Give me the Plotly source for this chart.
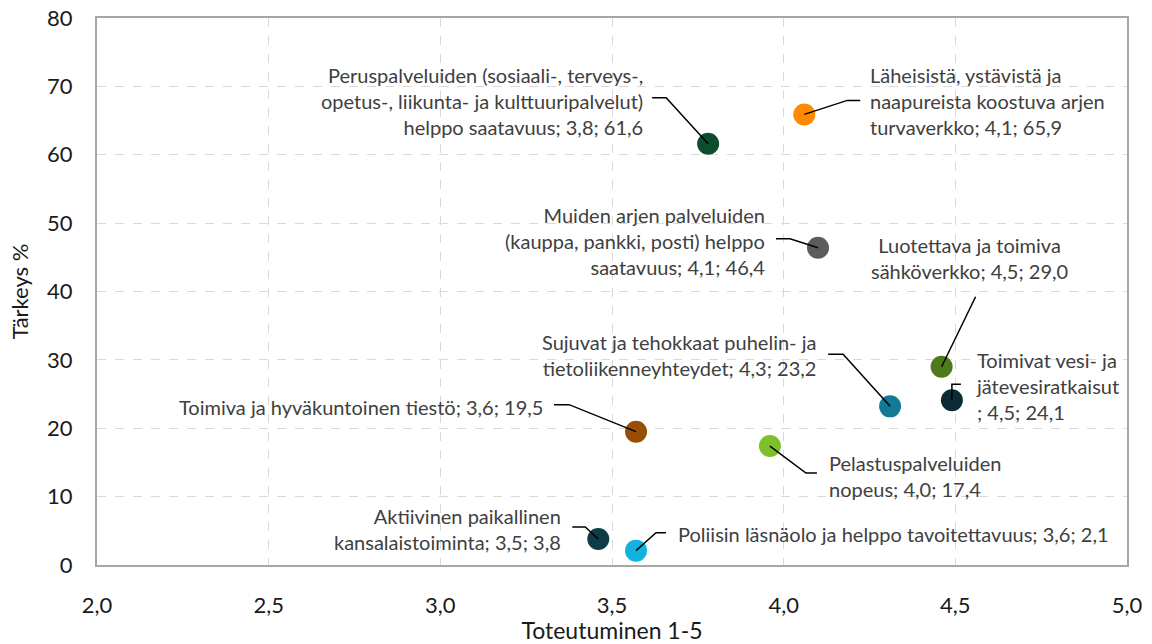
import plotly.graph_objects as go

# ---------------------------------------------------------------
# data
# ---------------------------------------------------------------

names = [
    "Peruspalveluiden (sosiaali-, terveys-,<br>opetus-, liikunta- ja kulttuuripalvelut)<br>helppo saatavuus",
    "Läheisistä, ystävistä ja<br>naapureista koostuva arjen<br>turvaverkko",
    "Muiden arjen palveluiden<br>(kauppa, pankki, posti) helppo<br>saatavuus",
    "Luotettava ja toimiva<br>sähköverkko",
    "Sujuvat ja tehokkaat puhelin- ja<br>tietoliikenneyhteydet",
    "Toimivat vesi- ja<br>jätevesiratkaisut<br>",
    "Toimiva ja hyväkuntoinen tiestö",
    "Pelastuspalveluiden<br>nopeus",
    "Aktiivinen paikallinen<br>kansalaistoiminta",
    "Poliisin läsnäolo ja helppo tavoitettavuus",
]
toteutuminen = [3.78, 4.06, 4.10, 4.46, 4.31, 4.49, 3.57, 3.96, 3.46, 3.57]
tarkeys = [61.6, 65.9, 46.4, 29.0, 23.2, 24.1, 19.5, 17.4, 3.8, 2.1]
colors = ["#0B4D2C", "#FF8A00", "#5A5C5E", "#4E7A1B", "#127A96",
          "#0B2B36", "#9A4D05", "#7CC02C", "#0E3B48", "#12B2E0"]

# label placement: (anchor, xshift, yshift) and leader line in pixels
label_pos = [
    ("right", -63, 43), ("left", 64, 13), ("right", -51, 7),
    ("center", 28, 109), ("right", -72, 51), ("left", 22, 14),
    ("right", -91, 25), ("left", 57, -30), ("right", -35, 10),
    ("left", 40, 17),
]
leaders = [
    "M0,0 L-42,46 L-56,46", "M0,0 L43,14 L56,14", "M0,0 L-28,9 L-42,9",
    "M0,0 L34,70", "M0,0 L-47,52 L-62,52", "M0,0 L0,16 L9,16",
    "M0,0 L-67,27 L-82,27", "M0,0 L36,-27 L47,-27", "M0,0 L-13,12 L-26,12",
    "M0,0 L20,18 L30,18",
]


def fmt(v):
    return f"{v:.1f}".replace(".", ",")


FONT = "Lato, 'Open Sans', sans-serif"

fig = go.Figure()

fig.add_trace(go.Scatter(
    x=toteutuminen,
    y=tarkeys,
    mode="markers",
    marker=dict(size=22, color=colors, line=dict(width=0)),
    hoverinfo="skip",
    showlegend=False,
))

for i, name in enumerate(names):
    anchor, xs, ys = label_pos[i]
    text = f"{name}; {fmt(toteutuminen[i])}; {fmt(tarkeys[i])}"
    fig.add_annotation(
        x=toteutuminen[i], y=tarkeys[i], xref="x", yref="y",
        text=text,
        showarrow=False,
        xanchor=anchor, yanchor="middle", align=anchor,
        xshift=xs, yshift=ys,
        font=dict(family=FONT, size=20, color="#404040"),
    )
    fig.add_shape(
        type="path", path=leaders[i],
        xref="x", yref="y", xsizemode="pixel", ysizemode="pixel",
        xanchor=toteutuminen[i], yanchor=tarkeys[i],
        line=dict(color="#000000", width=1.5),
        layer="above",
    )

fig.update_layout(
    width=1152, height=644,
    margin=dict(l=97, r=25, t=18, b=79),
    paper_bgcolor="white",
    plot_bgcolor="white",
    separators=", ",
    font=dict(family=FONT, color="#1a1a1a"),
)

fig.update_xaxes(
    range=[2.0, 5.0], dtick=0.5, tickformat=".1f",
    showgrid=True, gridcolor="#D9D9D9", griddash="dash", gridwidth=1,
    showline=True, linecolor="#A6A6A6", linewidth=2, mirror=True,
    zeroline=False, ticks="", ticklabelstandoff=20, automargin=False,
    tickfont=dict(size=22, family=FONT, color="#1a1a1a"),
    title=dict(text="Toteutuminen 1-5", standoff=4,
               font=dict(size=23, family=FONT, color="#1a1a1a")),
)

fig.update_yaxes(
    range=[0, 80], dtick=10,
    showgrid=True, gridcolor="#D9D9D9", griddash="dash", gridwidth=1,
    showline=True, linecolor="#A6A6A6", linewidth=2, mirror=True,
    zeroline=False, ticks="", ticklabelstandoff=18, automargin=False,
    tickfont=dict(size=22, family=FONT, color="#1a1a1a"),
    title=dict(text="Tärkeys %", standoff=12,
               font=dict(size=22, family=FONT, color="#1a1a1a")),
)

# drop the default 8px body margin so the figure fills the window
fig.write_html(
    "out.html",
    config={"displayModeBar": False},
    post_script="document.body.style.margin='0';",
)
